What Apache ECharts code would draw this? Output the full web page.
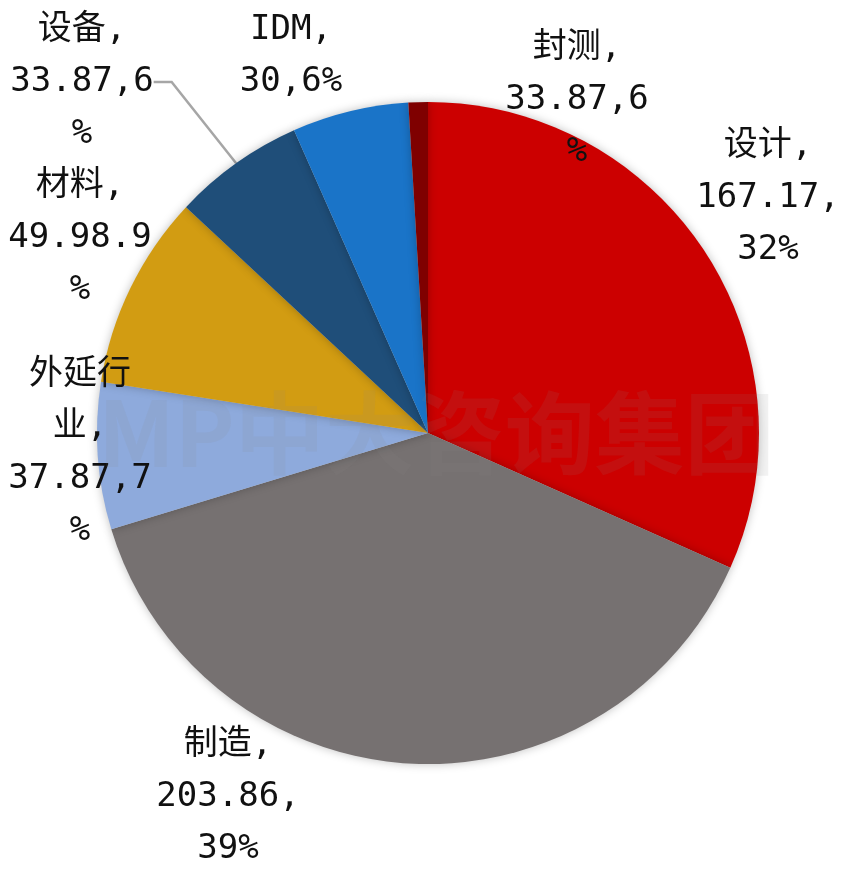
<!DOCTYPE html>
<html>
<head>
<meta charset="utf-8">
<script src="https://cdn.jsdelivr.net/npm/echarts@6/dist/echarts.min.js"></script>
<style>html,body{margin:0;padding:0;background:#fff}#c{width:849px;height:870px}</style>
</head>
<body>
<div id="c"></div>
<script>
// Data
const categories = ['设计', '制造', '外延行业', '材料', '设备', 'IDM', '封测'];
const values = [167.17, 203.86, 37.87, 49.98, 33.87, 30, 5];
const labelTexts = [
  '设计,\n167.17,\n32%',
  '制造,\n203.86,\n39%',
  '外延行\n业,\n37.87,7\n%',
  '材料,\n49.98.9\n%',
  '设备,\n33.87,6\n%',
  'IDM,\n30,6%',
  '封测,\n33.87,6\n%'
];
const colors = ['#CC0000', '#767171', '#8EAADC', '#D29C12', '#1F4E79', '#1A74C8', '#7F0000'];
// label block centres (layout, not data)
const labelPos = [
  [768, 198], [228, 797], [80, 453], [80, 238], [82, 82], [291, 56], [577, 100]
];
const showLine = [false, false, false, false, true, false, false];

function richLabel(t) {
  return t.split('\n').map(function (line) {
    return /[\u4e00-\u9fff]/.test(line) ? '{cn|' + line + '}' : '{num|' + line + '}';
  }).join('\n');
}

const chart = echarts.init(document.getElementById('c'));
chart.setOption({
  backgroundColor: '#ffffff',
  animation: false,
  series: [{
    type: 'pie',
    center: [428, 433],
    radius: [0, 331],
    startAngle: 90,
    clockwise: true,
    avoidLabelOverlap: false,
    data: categories.map((c, i) => ({
      name: c,
      value: values[i],
      itemStyle: { color: colors[i] },
      label: { formatter: richLabel(labelTexts[i]) },
      labelLine: { show: showLine[i] }
    })),
    itemStyle: {
      shadowBlur: 10,
      shadowColor: 'rgba(0,0,0,0.25)'
    },
    label: {
      show: true,
      position: 'outside',
      color: '#111',
      align: 'center',
      rich: {
        cn: {
          fontSize: 34,
          lineHeight: 52,
          color: '#111',
          fontFamily: '"DejaVu Sans Mono", "Noto Sans CJK SC", monospace'
        },
        num: {
          fontSize: 34,
          lineHeight: 52,
          color: '#111',
          fontFamily: '"DejaVu Sans Mono", monospace'
        }
      }
    },
    labelLine: {
      length: 20,
      length2: 18,
      lineStyle: { color: '#A6A6A6', width: 2.5 }
    },
    labelLayout: function (p) {
      const pos = labelPos[p.dataIndex];
      return { x: pos[0], y: pos[1], align: 'center', verticalAlign: 'middle' };
    }
  }],
  graphic: [{
    type: 'text',
    left: 98,
    top: 388,
    z: 100,
    silent: true,
    style: {
      text: 'MP中大咨询集团',
      fontSize: 90,
      fontWeight: 'bold',
      fontFamily: '"Noto Sans CJK SC", sans-serif',
      fill: 'rgba(140,140,140,0.11)'
    }
  }]
});
</script>
</body>
</html>
